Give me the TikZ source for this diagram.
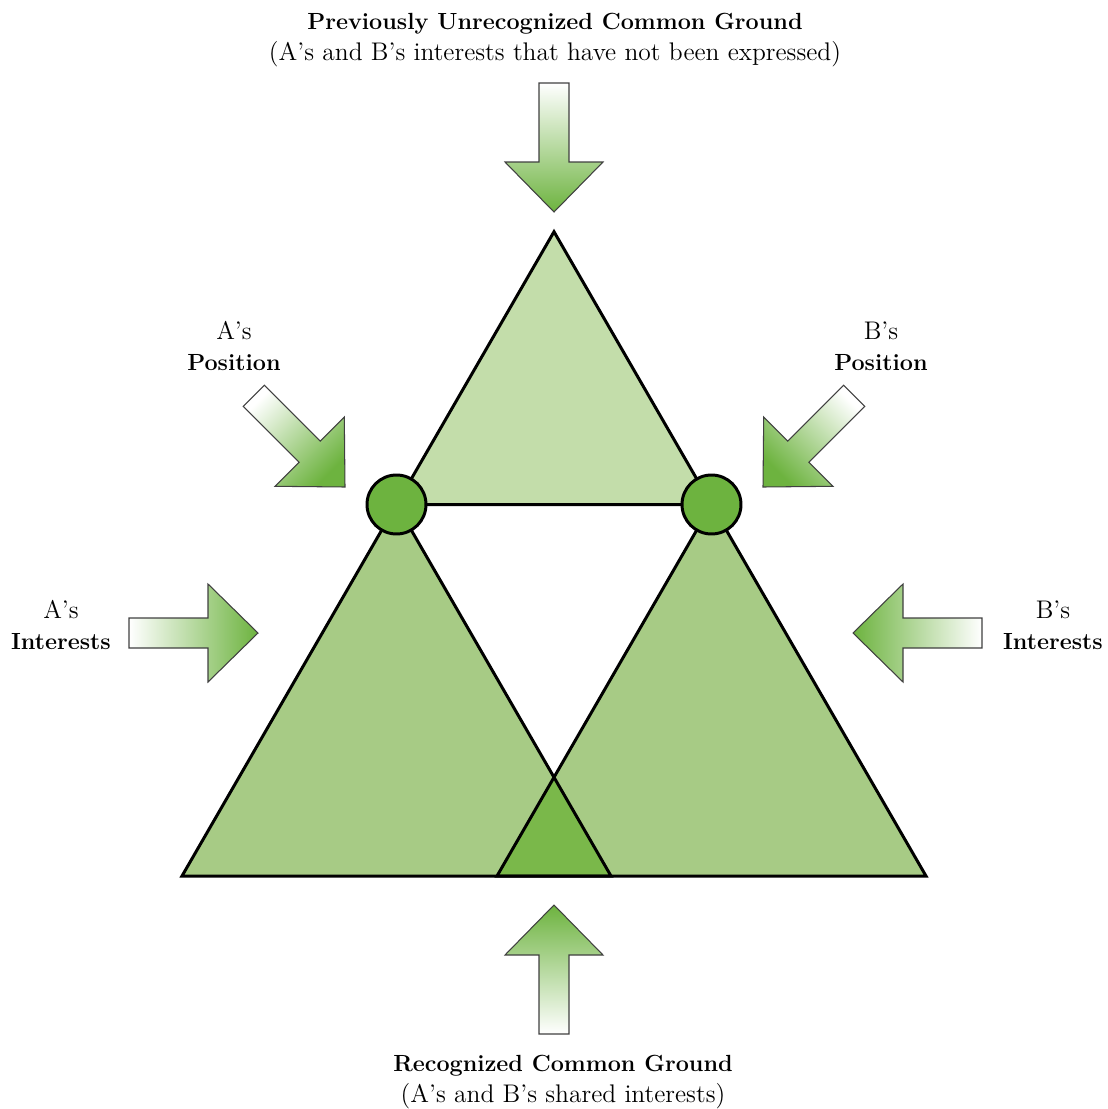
\documentclass[tikz,border=0pt]{standalone}
\usepackage{tikz}
\usetikzlibrary{positioning}
\definecolor{paleleaf}{HTML}{C3DDAA}
\definecolor{midleaf}{HTML}{A7CB85}
\definecolor{deepleaf}{HTML}{7AB84A}
\definecolor{knotleaf}{HTML}{6DB33F}
\newcommand{\hd}[1]{{\fontsize{13.3}{17.6}\selectfont\bfseries #1}}
\tikzset{
  tri/.style = {draw=black, line width=1.7pt, line join=miter},
  joint/.style = {circle, draw=black, line width=1.7pt, fill=knotleaf,
    minimum size=1.18cm, inner sep=0pt},
  lbl/.style = {align=center, font=\fontsize{14.5}{17.6}\selectfont, inner sep=0pt},
  pushbody/.style = {draw=black!75, line width=0.6pt, top color=white, bottom color=knotleaf},
  pics/push/.style = {code={
    \path[pushbody, shading angle=#1] (0,0) -- (-50,49) -- (-50,15) -- (-129,15)
      -- (-129,-15) -- (-50,-15) -- (-50,-49) -- cycle;}}
}

\begin{document}
\begin{tikzpicture}[x=0.02cm, y=-0.02cm]
\useasboundingbox (0,0) rectangle (1108,1109);

% corners of the three triangles
\coordinate (la) at (182,876);
\coordinate (lb) at (611,876);
\coordinate (ra) at (497,876);
\coordinate (rb) at (926,876);
\coordinate (top) at (554,231.7);
\coordinate (mid) at (554,777.3);
\coordinate (pa) at (396.5,504.5);
\coordinate (pb) at (711.5,504.5);

\fill[midleaf] (la) -- (lb) -- (pa) -- cycle;
\fill[midleaf] (ra) -- (rb) -- (pb) -- cycle;
\fill[deepleaf] (ra) -- (lb) -- (mid) -- cycle;
\draw[tri] (la) -- (lb) -- (pa) -- cycle;
\draw[tri] (ra) -- (rb) -- (pb) -- cycle;
\draw[tri, fill=paleleaf] (pa) -- (pb) -- (top) -- cycle;

\node[joint] (posa) at (pa) {};
\node[joint] (posb) at (pb) {};

% arrows pushing in
\pic[rotate=-90] at (554,212) {push=0};
\pic[rotate=90] at (554,905) {push=180};
\pic at (258,633) {push=90};
\pic[rotate=180] at (853,633) {push=-90};
\pic[rotate=-45] at (345,487) {push=45};
\pic[rotate=-135] at (763,487) {push=-45};

% texts
\node[lbl] (unseen) at (555,40) {\hd{Previously Unrecognized Common Ground}\\
(A's and B's interests that have not been expressed)};
\node[lbl] (shared) at (563,1082) {\hd{Recognized Common Ground}\\
(A's and B's shared interests)};
\node[lbl] (apos) at (234,346) {A's\\ \hd{Position}};
\node[lbl] (bpos) at (881,346) {B's\\ \hd{Position}};
\node[lbl] (aint) at (61,625) {A's\\ \hd{Interests}};
\node[lbl] (bint) at (1053,625) {B's\\ \hd{Interests}};

\end{tikzpicture}
\end{document}
